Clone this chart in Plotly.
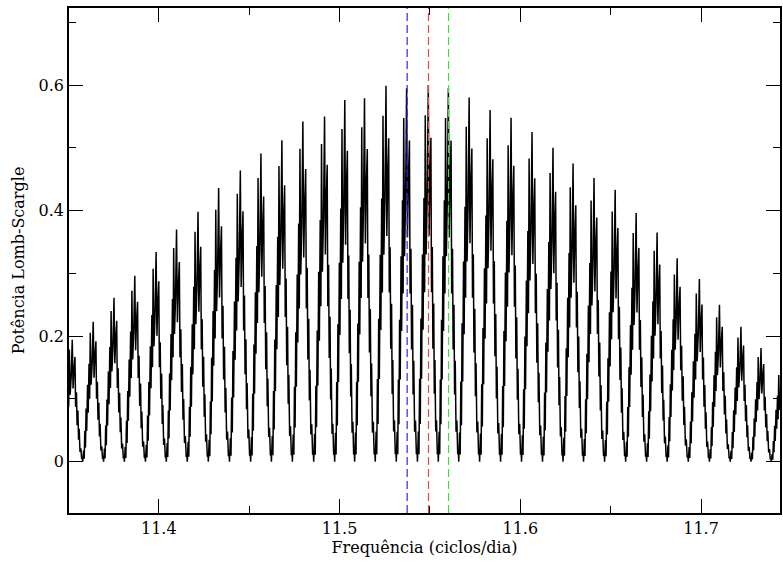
import plotly.graph_objects as go

# Main alias-peak centres (cycles/day) and their heights
peak_freq = [11.3521, 11.3637, 11.3752, 11.3867, 11.3985, 11.4098, 11.4217, 11.4331,
             11.4451, 11.4565, 11.4681, 11.4797, 11.4917, 11.5029, 11.5138, 11.5257,
             11.5371, 11.5491, 11.5602, 11.5717, 11.5833, 11.5949, 11.6065, 11.6181,
             11.6292, 11.6408, 11.6525, 11.6641, 11.6757, 11.6868, 11.6991, 11.7102,
             11.7221, 11.7332, 11.7446]
peak_power = [0.194, 0.223, 0.261, 0.296, 0.334, 0.370, 0.398, 0.436,
              0.464, 0.491, 0.512, 0.542, 0.550, 0.576, 0.579, 0.599,
              0.595, 0.600, 0.595, 0.580, 0.560, 0.548, 0.525, 0.500,
              0.475, 0.452, 0.433, 0.396, 0.365, 0.324, 0.291, 0.250,
              0.215, 0.181, 0.150]

# Fine structure of one alias peak (offset as fraction of peak spacing, relative power)
profile_offset = [-0.50, -0.46, -0.43, -0.40, -0.37, -0.34, -0.31, -0.27, -0.24, -0.20,
                  -0.17, -0.14, -0.10, -0.05, 0.00, 0.04, 0.08, 0.13, 0.16, 0.20,
                  0.23, 0.27, 0.30, 0.33, 0.37, 0.41, 0.45, 0.48]
profile_rel = [0.00, 0.08, 0.02, 0.22, 0.10, 0.38, 0.22, 0.55, 0.35, 0.70,
               0.45, 0.92, 0.55, 0.70, 1.00, 0.60, 0.75, 0.86, 0.45, 0.57,
               0.30, 0.42, 0.18, 0.27, 0.08, 0.11, 0.02, 0.03]

# Reference frequencies (dashed lines)
ref_freq = [11.5374, 11.5492, 11.5603]
ref_color = ["#2a2ae8", "#f04848", "#3ee03e"]

x_tick_vals = [11.4, 11.5, 11.6, 11.7]
y_tick_vals = [0, 0.2, 0.4, 0.6]
y_tick_text = ["0", "0.2", "0.4", "0.6"]

xs, ys = [], []
n = len(peak_freq)
for i in range(n):
    c = peak_freq[i]
    left = c - peak_freq[i - 1] if i > 0 else peak_freq[1] - peak_freq[0]
    right = peak_freq[i + 1] - c if i < n - 1 else c - peak_freq[i - 1]
    for off, rel in zip(profile_offset, profile_rel):
        step = left if off < 0 else right
        xs.append(c + off * step)
        ys.append(peak_power[i] * rel)

fig = go.Figure()
fig.add_trace(go.Scatter(x=xs, y=ys, mode="lines",
                         line=dict(color="black", width=1.5), showlegend=False))

for f, col in zip(ref_freq, ref_color):
    fig.add_shape(type="line", xref="x", yref="paper", x0=f, x1=f, y0=0, y1=1,
                  line=dict(color=col, width=1.2, dash="8px,4px"), layer="above")

font = dict(family="DejaVu Serif", size=16, color="black")

fig.update_layout(
    width=783, height=563,
    margin=dict(l=69, r=1, t=8, b=50),
    plot_bgcolor="white", paper_bgcolor="white",
    font=font,
    xaxis=dict(range=[11.3503, 11.7437], tickvals=x_tick_vals, ticks="inside",
               ticklen=14, tickwidth=1, tickcolor="black", showgrid=False, zeroline=False,
               showline=True, linecolor="black", linewidth=1.5, mirror="ticks",
               minor=dict(dtick=0.05, ticks="inside", ticklen=7, tickcolor="black", showgrid=False),
               title=dict(text="Frequência (ciclos/dia)", font=font, standoff=5),
               tickfont=font),
    yaxis=dict(range=[-0.0818, 0.7227], tickvals=y_tick_vals, ticktext=y_tick_text,
               ticks="inside", ticklen=14, tickwidth=1, tickcolor="black",
               showgrid=False, zeroline=False,
               showline=True, linecolor="black", linewidth=1.5, mirror="ticks",
               minor=dict(dtick=0.1, ticks="inside", ticklen=7, tickcolor="black", showgrid=False),
               title=dict(text="Potência Lomb-Scargle", font=font, standoff=10),
               tickfont=font),
)

fig.write_html("out.html")
